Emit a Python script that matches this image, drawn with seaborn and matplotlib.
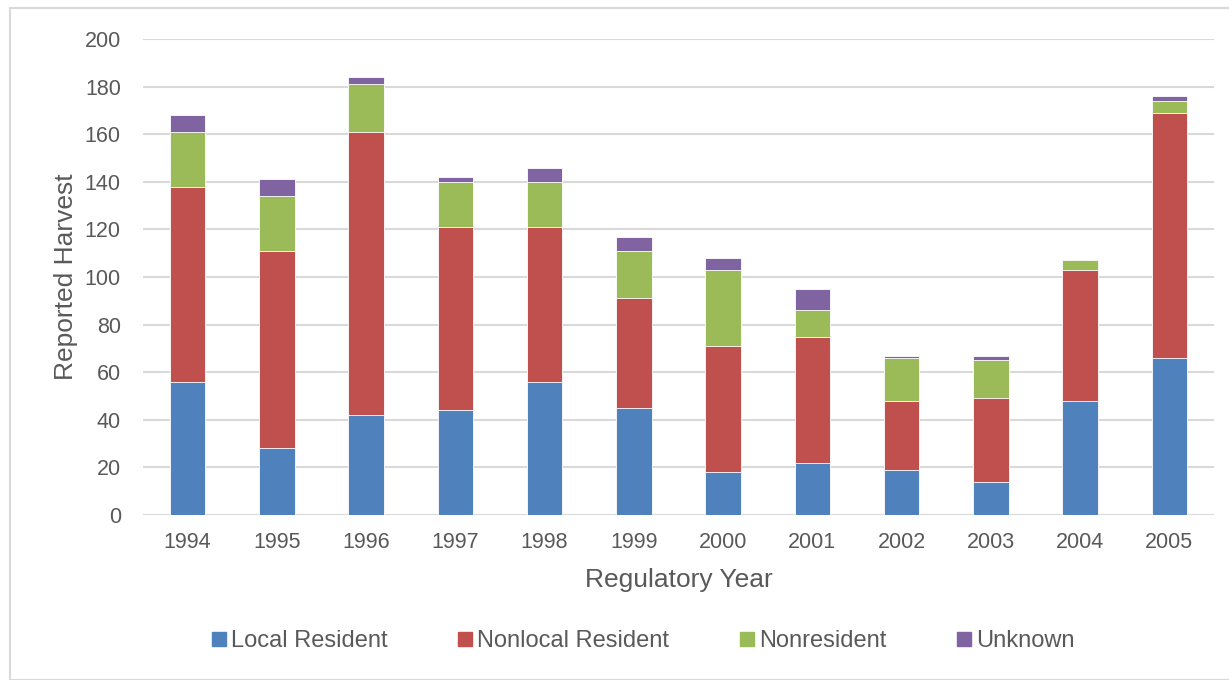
import matplotlib
matplotlib.use("Agg")
import matplotlib.pyplot as plt
from matplotlib.patches import Rectangle
from matplotlib.lines import Line2D
import numpy as np
import pandas as pd
import seaborn as sns

years = ["1994", "1995", "1996", "1997", "1998", "1999",
         "2000", "2001", "2002", "2003", "2004", "2005"]
local_resident = [56, 28, 42, 44, 56, 45, 18, 22, 19, 14, 48, 66]
nonlocal_resident = [82, 83, 119, 77, 65, 46, 53, 53, 29, 35, 55, 103]
nonresident = [23, 23, 20, 19, 19, 20, 32, 11, 18, 16, 4, 5]
unknown = [7, 7, 3, 2, 6, 6, 5, 9, 1, 2, 0, 2]

series_names = ["Local Resident", "Nonlocal Resident", "Nonresident", "Unknown"]
series_values = [local_resident, nonlocal_resident, nonresident, unknown]
series_colors = ["#4F81BD", "#C0504D", "#9BBB59", "#8064A2"]

sns.set_theme(style="white")
plt.rcParams["font.family"] = ["Liberation Sans", "DejaVu Sans"]

text_color = "#595959"

fig = plt.figure(figsize=(12.29, 6.80), dpi=100)
ax = fig.add_axes([143 / 1229, 1 - 515 / 680, (1214 - 143) / 1229, (515 - 39) / 680])

# Stacked bars: draw cumulative totals from the top series down so each
# lower segment covers the one above it.
cumulative = np.cumsum(np.array(series_values), axis=0)
for i in range(len(series_names) - 1, -1, -1):
    df = pd.DataFrame({"year": years, "value": cumulative[i]})
    sns.barplot(data=df, x="year", y="value", color=series_colors[i],
                saturation=1, width=0.4, edgecolor="white", linewidth=0.6,
                ax=ax, zorder=3)

ax.set_ylim(0, 200)
ax.set_xlim(-0.5, len(years) - 0.5)
ax.set_yticks(range(0, 201, 20))
ax.yaxis.grid(True, color="#D9D9D9", linewidth=1.5, zorder=0)
ax.set_axisbelow(True)
for side in ["top", "right", "left", "bottom"]:
    ax.spines[side].set_visible(False)

ax.tick_params(axis="both", length=0, labelsize=15.5, colors=text_color)
ax.tick_params(axis="y", pad=16)
ax.tick_params(axis="x", pad=12)

ax.set_xlabel("Regulatory Year", fontsize=19, color=text_color, labelpad=11)
ax.set_ylabel("Reported Harvest", fontsize=19, color=text_color, labelpad=5)

handles = [Line2D([0], [0], marker="s", linestyle="none", markersize=10,
                  markerfacecolor=c, markeredgecolor=c) for c in series_colors]
fig.legend(handles, series_names, loc="center", ncol=4,
           bbox_to_anchor=(642 / 1229, 1 - 641 / 680), frameon=False,
           fontsize=17, labelcolor=text_color, handletextpad=0.1,
           columnspacing=2.9, handlelength=0.8)

# Light chart-area border
fig.patches.append(Rectangle((10 / 1229, 0.0), 1.0, 1 - 8 / 680,
                             transform=fig.transFigure, fill=False,
                             edgecolor="#D9D9D9", linewidth=1.5))

fig.savefig("out.png", dpi=100, facecolor="white")
